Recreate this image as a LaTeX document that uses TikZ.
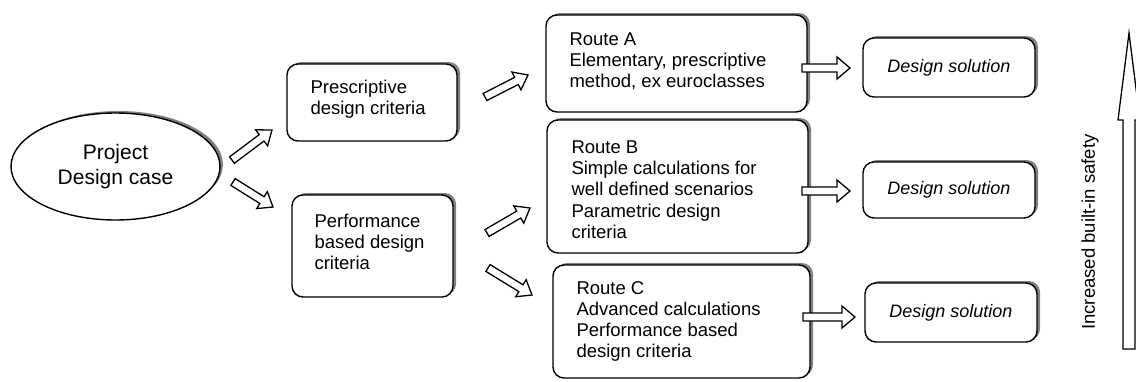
\documentclass[tikz,border=0pt]{standalone}
\usepackage{fontspec}
\setmainfont{Liberation Sans}
\usetikzlibrary{shapes.geometric,shadows,calc}
\definecolor{shadowgray}{RGB}{128,128,128}

% hollow block arrow from #1 (tail) to #2 (tip):
% #3 shaft half width, #4 head half width, #5 head length
\newcommand\blockarrow[5]{%
  \draw[hollowarrow] let \p1=(#1), \p2=(#2), \n1={atan2(\y2-\y1,\x2-\x1)} in
    ($(\p1)+(\n1+90:#3)$)
    -- ($(\p2)+(\n1+180:#5)+(\n1+90:#3)$)
    -- ($(\p2)+(\n1+180:#5)+(\n1+90:#4)$)
    -- (\p2)
    -- ($(\p2)+(\n1+180:#5)+(\n1-90:#4)$)
    -- ($(\p2)+(\n1+180:#5)+(\n1-90:#3)$)
    -- ($(\p1)+(\n1-90:#3)$) -- cycle;}

\tikzset{
  shadowed/.style={general shadow={shadow xshift=3pt, shadow yshift=2pt, fill=shadowgray}},
  box/.style={draw, line width=1.4pt, rounded corners=11pt, fill=white, shadowed, inner sep=0pt},
  oval/.style={ellipse, draw, line width=1.4pt, fill=white, shadowed, inner sep=0pt,
    align=center, font=\fontsize{21}{25}\selectfont},
  txt/.style={font=\fontsize{18.5}{21.3}\selectfont, align=left, inner sep=0pt, anchor=west},
  soltxt/.style={font=\fontsize{18}{21}\selectfont\itshape, inner sep=0pt},
  hollowarrow/.style={draw, fill=white, line width=1.3pt, line join=miter},
}

\begin{document}
\begin{tikzpicture}[x=1pt, y=-1pt]
\useasboundingbox (0,0) rectangle (1136,381);

% starting point
\node[oval, minimum width=209pt, minimum height=107pt] (case) at (115.5,166.5) {Project\\Design case};

% design criteria
\node[box, minimum width=170pt, minimum height=77pt] (pres) at (372,102.5) {};
\node[txt] (pres-t) at ([xshift=24pt,yshift=3pt]pres.west) {Prescriptive\\design criteria};
\node[box, minimum width=161pt, minimum height=102pt] (perf) at (372.5,246) {};
\node[txt] (perf-t) at ([xshift=23pt,yshift=4pt]perf.west) {Performance\\based design\\criteria};

% routes
\node[box, minimum width=261pt, minimum height=97pt] (ra) at (676.5,63.5) {};
\node[txt] (ra-t) at ([xshift=24pt,yshift=2pt]ra.west) {Route A\\Elementary, prescriptive\\method, ex euroclasses};
\node[box, minimum width=261pt, minimum height=133pt] (rb) at (677.5,186.5) {};
\node[txt] (rb-t) at ([xshift=25pt,yshift=-3pt]rb.west) {Route B\\Simple calculations for\\well defined scenarios\\Parametric design\\criteria};
\node[box, minimum width=257pt, minimum height=113pt] (rc) at (681.5,321.5) {};
\node[txt] (rc-t) at ([xshift=24pt]rc.west) {Route C\\Advanced calculations\\Performance based\\design criteria};

% design solutions
\node[box, minimum width=172pt, minimum height=59pt] (ds1) at (949,67.5) {};
\node[soltxt] (ds1-t) at (ds1) {Design solution};
\node[box, minimum width=172pt, minimum height=56pt] (ds2) at (949,190) {};
\node[soltxt] (ds2-t) at (ds2) {Design solution};
\node[box, minimum width=172pt, minimum height=59pt] (ds3) at (951,312.5) {};
\node[soltxt] (ds3-t) at (ds3) {Design solution};

% arrow end points
\coordinate (a1s) at (232,160);  \coordinate (a1e) at (272,130);
\coordinate (a2s) at (233,182);  \coordinate (a2e) at (273,207);
\coordinate (a3s) at (485,97);   \coordinate (a3e) at (528,75);
\coordinate (a4s) at (487,233);  \coordinate (a4e) at (530,208);
\coordinate (a5s) at (488,268);  \coordinate (a5e) at (532,295);
\coordinate (a6s) at (802,68);   \coordinate (a6e) at (850,68);
\coordinate (a7s) at (802,191);  \coordinate (a7e) at (850,191);
\coordinate (a8s) at (803,317);  \coordinate (a8e) at (855,317);
\coordinate (up-s) at (1129,349); \coordinate (up-e) at (1129,33);

\blockarrow{a1s}{a1e}{4pt}{10pt}{13pt}
\blockarrow{a2s}{a2e}{4pt}{10pt}{13pt}
\blockarrow{a3s}{a3e}{4pt}{10pt}{13pt}
\blockarrow{a4s}{a4e}{4pt}{10pt}{13pt}
\blockarrow{a5s}{a5e}{4pt}{10pt}{13pt}
\blockarrow{a6s}{a6e}{4pt}{11pt}{13pt}
\blockarrow{a7s}{a7e}{4pt}{11pt}{13pt}
\blockarrow{a8s}{a8e}{4pt}{11pt}{13pt}

% safety scale
\blockarrow{up-s}{up-e}{6pt}{11pt}{87pt}
\node[rotate=90, font=\fontsize{18.5}{21}\selectfont, inner sep=0pt] (safety) at (1090,232) {Increased built-in safety};
\end{tikzpicture}
\end{document}
